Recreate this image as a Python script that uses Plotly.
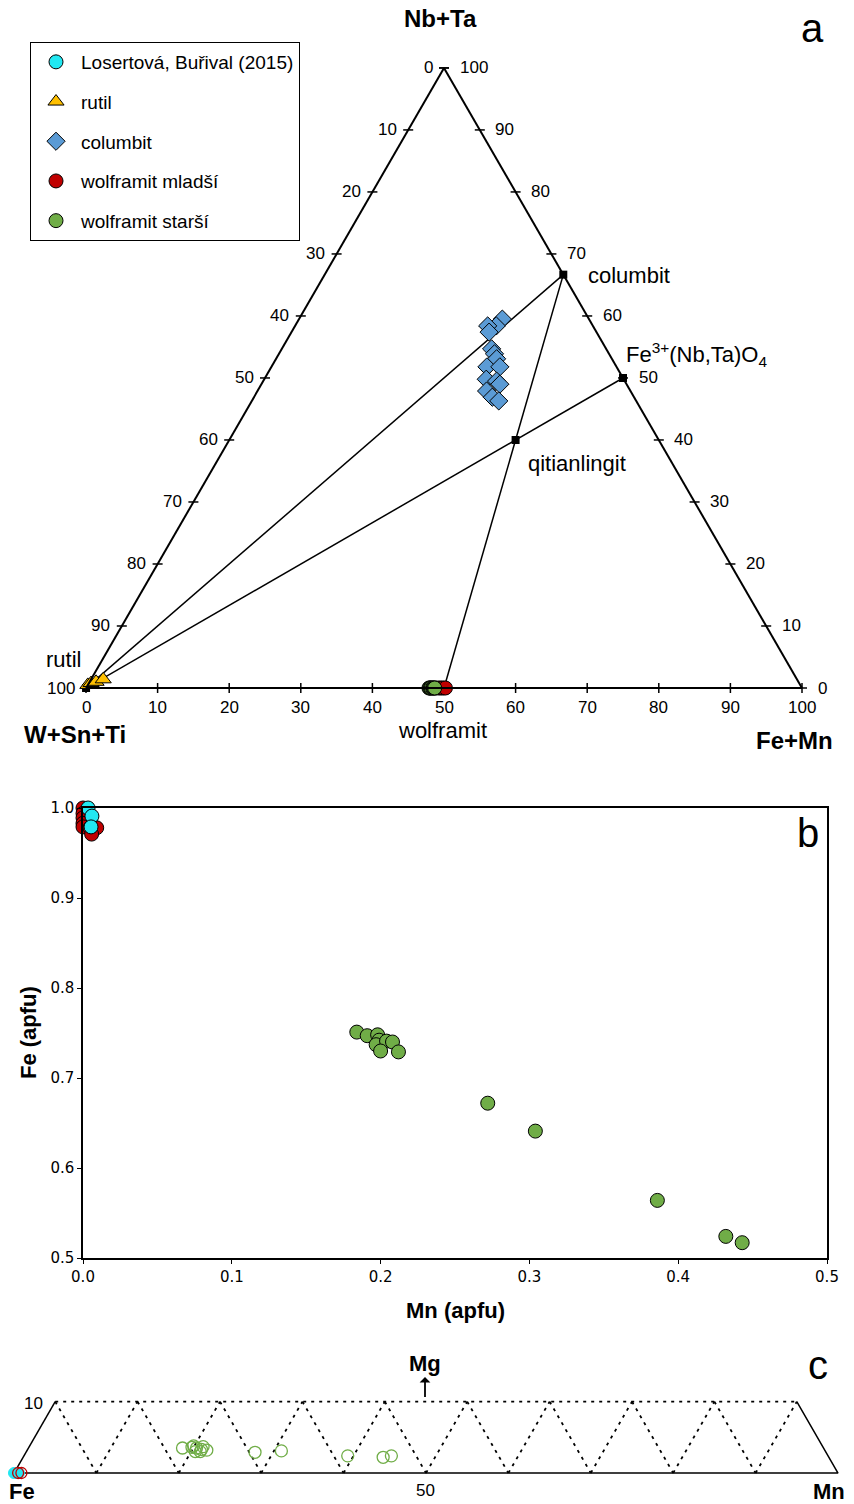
import math
import plotly.graph_objects as go

W, H = 854, 1504

# ---------------- Panel a : ternary data (percent) ----------------
# A = Nb+Ta (top), C = Fe+Mn (right); B = W+Sn+Ti (left) = 100 - A - C
col_nbta = [59.5, 58.4, 58.4, 57.4, 54.7, 53.9, 53.1, 51.8, 51.8, 49.8, 49.5, 49.0, 47.9, 46.9, 46.3]
col_femn = [28.4, 28.1, 26.9, 27.6, 29.3, 30.1, 30.8, 30.1, 31.9, 31.0, 32.6, 33.3, 32.0, 33.3, 34.5]
rut_nbta = [0.5, 0.8, 1.0, 1.4]
rut_femn = [0.0, 0.3, 0.9, 1.7]
wml_nbta = [0.0, 0.0, 0.0, 0.0, 0.0]
wml_femn = [48.9, 49.3, 49.6, 49.9, 50.2]
wst_nbta = [0.0, 0.0, 0.0, 0.0, 0.0, 0.0, 0.0, 0.0]
wst_femn = [47.9, 48.0, 48.1, 48.2, 48.4, 48.5, 48.6, 48.7]

ref_names = ["rutil", "columbit", "Fe3+(Nb,Ta)O4", "qitianlingit", "wolframit"]
ref_nbta = [0.0, 66.67, 50.0, 40.0, 0.0]
ref_femn = [0.0, 33.33, 50.0, 40.0, 50.0]
ref_ties = [(0, 1), (0, 2), (1, 4)]

tern_ticks = [0, 10, 20, 30, 40, 50, 60, 70, 80, 90, 100]

# ---------------- Panel b : Mn vs Fe (apfu) ----------------
b_cyan_mn = [0.0034, 0.0060, 0.0054]
b_cyan_fe = [1.000, 0.991, 0.979]
b_red_mn = [0.0, 0.0, 0.0, 0.0, 0.0, 0.0047, 0.0092, 0.0058]
b_red_fe = [1.000, 0.994, 0.989, 0.983, 0.979, 0.978, 0.978, 0.971]
b_green_mn = [0.184, 0.191, 0.198, 0.199, 0.197, 0.204, 0.208, 0.200, 0.212, 0.272, 0.304, 0.386, 0.432, 0.443]
b_green_fe = [0.751, 0.747, 0.748, 0.742, 0.737, 0.741, 0.740, 0.730, 0.729, 0.672, 0.641, 0.564, 0.524, 0.517]

# ---------------- Panel c : Fe-Mn-Mg (percent) ----------------
c_cyan_mn = [0.0, 0.3, 0.6]
c_cyan_mg = [0.0, 0.0, 0.0]
c_red_mn = [0.5, 0.9]
c_red_mg = [0.0, 0.0]
c_green_mn = [18.7, 19.8, 20.4, 21.1, 21.8, 20.5, 21.1, 19.9, 21.1, 27.8, 30.9, 39.3, 43.7, 44.6]
c_green_mg = [3.5, 3.6, 3.5, 3.3, 3.2, 3.0, 3.0, 3.8, 3.7, 2.9, 3.1, 2.4, 2.2, 2.4]

CYAN = "#22e8f2"
ORANGE = "#ffc000"
BLUE = "#5b9bd5"
RED = "#c00000"
GREEN = "#70ad47"
FONT = "Arial, Liberation Sans, sans-serif"
S3 = math.sqrt(3) / 2


def P(px, py):
    return px / W, 1 - py / H


def tern_xy(mn, mg):
    return [m + g / 2 for m, g in zip(mn, mg)], [g * S3 for g in mg]


fig = go.Figure()

# ---- panel a : tie lines and end-members ----
for i, j in ref_ties:
    fig.add_trace(go.Scatterternary(
        a=[ref_nbta[i], ref_nbta[j]], c=[ref_femn[i], ref_femn[j]],
        b=[100 - ref_nbta[i] - ref_femn[i], 100 - ref_nbta[j] - ref_femn[j]],
        mode="lines", line=dict(color="black", width=1.5),
        showlegend=False, hoverinfo="skip", cliponaxis=False))
fig.add_trace(go.Scatterternary(
    a=ref_nbta, c=ref_femn, b=[100 - a - c for a, c in zip(ref_nbta, ref_femn)],
    mode="markers", marker=dict(symbol="square", size=8, color="black"),
    text=ref_names, showlegend=False, cliponaxis=False))

# ---- panel a : scale ticks on a cartesian overlay sharing the triangle geometry ----
d = 0.7
tx, ty = [], []
for k in tern_ticks:
    a = 100 - k                       # left edge, W+Sn+Ti = k
    tx += [a / 2 - d, a / 2 + d, None]; ty += [a * S3, a * S3, None]
    tx += [100 - k / 2 - d, 100 - k / 2 + d, None]; ty += [k * S3, k * S3, None]   # right edge, Nb+Ta = k
    tx += [k, k, None]; ty += [-d, d, None]                                       # base, Fe+Mn = k
fig.add_trace(go.Scatter(x=tx, y=ty, mode="lines", line=dict(color="black", width=1.5),
                         showlegend=False, hoverinfo="skip", xaxis="x3", yaxis="y3"))


def tern_trace(a, c, name, sym, color, size, group, rank, show):
    return go.Scatterternary(
        a=a, c=c, b=[100 - x - y for x, y in zip(a, c)], mode="markers", name=name,
        marker=dict(symbol=sym, size=size, color=color, line=dict(color="black", width=1)),
        legendgroup=group, legendrank=rank, showlegend=show, cliponaxis=False)


fig.add_trace(tern_trace(rut_nbta, rut_femn, "rutil", "triangle-up", ORANGE, 14, "g2", 2, True))
fig.add_trace(tern_trace(col_nbta, col_femn, "columbit", "diamond", BLUE, 14, "g3", 3, True))
fig.add_trace(tern_trace(wml_nbta, wml_femn, "wolframit mladší", "circle", RED, 14, "g4", 4, False))
fig.add_trace(tern_trace(wst_nbta, wst_femn, "wolframit starší", "circle", GREEN, 14, "g5", 5, False))

# ---- panel b ----
fig.add_trace(go.Scatter(x=b_red_mn, y=b_red_fe, mode="markers", name="wolframit mladší",
                         marker=dict(size=14, color=RED, line=dict(color="black", width=1)),
                         legendgroup="g4", legendrank=4, cliponaxis=False, xaxis="x", yaxis="y"))
fig.add_trace(go.Scatter(x=b_cyan_mn, y=b_cyan_fe, mode="markers", name="Losertová, Buřival (2015)",
                         marker=dict(size=14, color=CYAN, line=dict(color="black", width=1)),
                         legendgroup="g1", legendrank=1, cliponaxis=False, xaxis="x", yaxis="y"))
fig.add_trace(go.Scatter(x=b_green_mn, y=b_green_fe, mode="markers", name="wolframit starší",
                         marker=dict(size=14, color=GREEN, line=dict(color="black", width=1)),
                         legendgroup="g5", legendrank=5, cliponaxis=False, xaxis="x", yaxis="y"))

# ---- panel c : frame + grid ----
SEG = dict(mode="lines", showlegend=False, hoverinfo="skip", xaxis="x2", yaxis="y2", cliponaxis=False)
frame_mn = [0, 100, 90, None, 0, 0]
frame_mg = [0, 0, 10, None, 0, 10]
fx, fy = [], []
for m, g in zip(frame_mn, frame_mg):
    if m is None:
        fx.append(None); fy.append(None)
    else:
        x, y = tern_xy([m], [g]); fx += x; fy += y
fig.add_trace(go.Scatter(x=fx, y=fy, line=dict(color="black", width=1.5), **SEG))

gx, gy = [], []
top_x, top_y = tern_xy([0, 90], [10, 10])
gx += top_x + [None]; gy += top_y + [None]
for k in range(0, 90, 10):
    x, y = tern_xy([k, k + 10], [10, 0])       # constant Fe lines
    gx += x + [None]; gy += y + [None]
for k in range(10, 100, 10):
    x, y = tern_xy([k, k], [0, 10])            # constant Mn lines
    gx += x + [None]; gy += y + [None]
fig.add_trace(go.Scatter(x=gx, y=gy, line=dict(color="black", width=1.8, dash="3px,5px"), **SEG))

cx, cy = tern_xy(c_cyan_mn, c_cyan_mg)
fig.add_trace(go.Scatter(x=cx, y=cy, mode="markers", marker=dict(size=11, color=CYAN, line=dict(color=CYAN, width=1)),
                         showlegend=False, legendgroup="g1", xaxis="x2", yaxis="y2", cliponaxis=False))
rx, ry = tern_xy(c_red_mn, c_red_mg)
fig.add_trace(go.Scatter(x=rx, y=ry, mode="markers", marker=dict(symbol="circle-open", size=11, color=RED, line=dict(width=1.3)),
                         showlegend=False, legendgroup="g4", xaxis="x2", yaxis="y2", cliponaxis=False))
gx2, gy2 = tern_xy(c_green_mn, c_green_mg)
fig.add_trace(go.Scatter(x=gx2, y=gy2, mode="markers", marker=dict(symbol="circle-open", size=12, color=GREEN, line=dict(width=1.3)),
                         showlegend=False, legendgroup="g5", xaxis="x2", yaxis="y2", cliponaxis=False))

# ---------------- annotations ----------------
ann = []


def A(text, px, py, size=22, bold=False, xanchor="center", yanchor="middle", family=FONT, **kw):
    x, y = P(px, py)
    ann.append(dict(text=("<b>%s</b>" % text) if bold else text, x=x, y=y, xref="paper", yref="paper",
                    showarrow=False, xanchor=xanchor, yanchor=yanchor,
                    font=dict(size=size, family=family, color="black"), **kw))


TF = dict(size=17, family=FONT, color="black")
for k in tern_ticks:
    a = 100 - k
    ann.append(dict(text=str(k), x=a / 2 - 1.3, y=a * S3, xref="x3", yref="y3", showarrow=False,
                    xanchor="right", yanchor="middle", font=TF))
    ann.append(dict(text=str(k), x=100 - k / 2 + 1.9, y=k * S3, xref="x3", yref="y3", showarrow=False,
                    xanchor="left", yanchor="middle", font=TF))
    ann.append(dict(text=str(k), x=k, y=-1.1, xref="x3", yref="y3", showarrow=False,
                    xanchor="center", yanchor="top", font=TF))

A("Nb+Ta", 440, 18, 24, True)
A("a", 812, 28, 40)
A("W+Sn+Ti", 75, 735, 24, True)
A("Fe+Mn", 794, 740, 24, True)
A("rutil", 63, 659, 22)
A("columbit", 586, 275, 22, xanchor="left")
A("Fe<sup>3+</sup>(Nb,Ta)O<sub>4</sub>", 624, 354, 22, xanchor="left")
A("qitianlingit", 526, 463, 22, xanchor="left")
A("wolframit", 442, 730, 22)
A("b", 808, 833, 40)
A("Mn (apfu)", 455, 1310, 22, True)
A("Fe (apfu)", 28, 1033, 22, True, textangle=-90)
A("c", 818, 1365, 40)
A("10", 33, 1403, 17)
A("Fe", 22, 1491, 22, True)
A("Mn", 829, 1491, 22, True)
A("50", 425, 1490, 17)
mx, my = P(425, 1397)
ann.append(dict(text="<b>Mg</b>", x=mx, y=my, xref="paper", yref="paper", ax=0, ay=-34,
                showarrow=True, arrowside="start", arrowhead=2, arrowsize=1, arrowwidth=1.8,
                arrowcolor="black", font=dict(size=22, family=FONT, color="black")))

# ---------------- layout ----------------
tax = dict(showticklabels=False, ticks="", linecolor="black", linewidth=2, showgrid=False,
           title=dict(text=""))
PXU = 716 / 100.0   # pixels per ternary percent unit (triangle base 716 px)

fig.update_layout(
    width=W, height=H, margin=dict(l=0, r=0, t=0, b=0, autoexpand=False),
    paper_bgcolor="white", plot_bgcolor="white",
    font=dict(family=FONT, color="black"),
    ternary=dict(sum=100, bgcolor="rgba(0,0,0,0)",
                 domain=dict(x=[86 / W, 802 / W], y=[1 - 688 / H, 1 - 68 / H]),
                 aaxis=tax, baxis=tax, caxis=tax),
    xaxis=dict(domain=[83 / W, 827 / W], range=[0, 0.5], dtick=0.1, tickformat=".1f",
               ticks="outside", ticklen=4, tickcolor="black", showline=True, mirror=True,
               linecolor="black", linewidth=1.5, showgrid=False, zeroline=False, anchor="y",
               tickfont=dict(size=15, family="DejaVu Sans", color="black")),
    yaxis=dict(domain=[1 - 1258 / H, 1 - 808 / H], range=[0.5, 1.0], dtick=0.1, tickformat=".1f",
               ticks="outside", ticklen=4, tickcolor="black", showline=True, mirror=True,
               linecolor="black", linewidth=1.5, showgrid=False, zeroline=False, anchor="x",
               tickfont=dict(size=15, family="DejaVu Sans", color="black")),
    xaxis2=dict(domain=[0, 1], range=[-14 / 8.24, 840 / 8.24], visible=False, anchor="y2"),
    yaxis2=dict(domain=[1 - 1485 / H, 1 - 1385 / H], range=[-12 / 8.24, 88 / 8.24], visible=False, anchor="x2"),
    xaxis3=dict(domain=[0, 1], range=[-86 / PXU, (W - 86) / PXU], visible=False, anchor="y3"),
    yaxis3=dict(domain=[1 - 760 / H, 1], range=[-72 / PXU, 688 / PXU], visible=False, anchor="x3"),
    legend=dict(x=30 / W, y=1 - 42 / H, xanchor="left", yanchor="top", bgcolor="white",
                bordercolor="black", borderwidth=1, font=dict(size=19, family=FONT, color="black"),
                tracegroupgap=12, traceorder="grouped", itemwidth=40),
    annotations=ann,
    showlegend=True,
)

fig.write_html("out.html")
